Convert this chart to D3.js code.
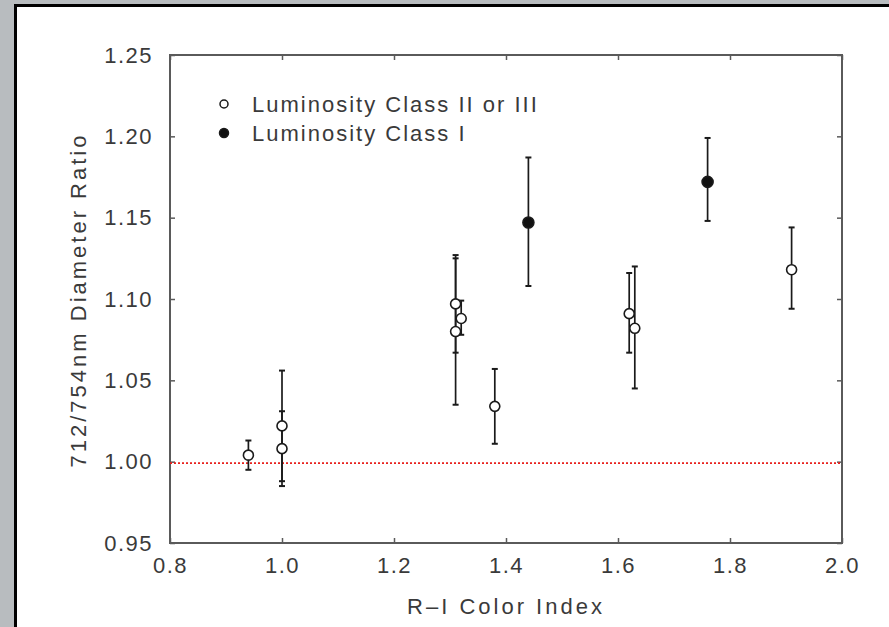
<!DOCTYPE html>
<html>
<head>
<meta charset="utf-8">
<script src="https://cdn.jsdelivr.net/npm/d3@7"></script>
<style>
  html, body { margin: 0; padding: 0; background: #b8bcbf; }
  svg { display: block; }
  text { font-family: "Liberation Sans", Arial, Helvetica, sans-serif; fill: #3a3a3a; }
</style>
</head>
<body>
<svg id="chart" width="889" height="627"></svg>
<script>
// R-I colour index of each star
const colorIndex  = [0.94, 1.00, 1.00, 1.31, 1.31, 1.32, 1.38, 1.44, 1.62, 1.63, 1.76, 1.91];
// 712/754nm diameter ratio
const ratio       = [1.004, 1.022, 1.008, 1.097, 1.080, 1.088, 1.034, 1.147, 1.091, 1.082, 1.172, 1.118];
// error bar limits
const ratioLow    = [0.995, 0.988, 0.985, 1.067, 1.035, 1.078, 1.011, 1.108, 1.067, 1.045, 1.148, 1.094];
const ratioHigh   = [1.013, 1.056, 1.031, 1.127, 1.125, 1.099, 1.057, 1.187, 1.116, 1.120, 1.199, 1.144];
// luminosity class group: "giant" = II or III, "super" = I
const lumClass    = ["giant", "giant", "giant", "giant", "giant", "giant", "giant", "super", "giant", "giant", "super", "giant"];

const xTicks = [0.8, 1.0, 1.2, 1.4, 1.6, 1.8, 2.0];
const yTicks = [0.95, 1.00, 1.05, 1.10, 1.15, 1.20, 1.25];
const legendLabels = ["Luminosity Class II or III", "Luminosity Class I"];
const referenceRatio = 1.0;

const svg = d3.select("#chart");

// slide background and white panel
svg.append("rect").attr("x", 0).attr("y", 0).attr("width", 889).attr("height", 627).attr("fill", "#b8bcbf");
svg.append("rect").attr("x", 15.5).attr("y", 5.5).attr("width", 900).attr("height", 700)
  .attr("fill", "#ffffff").attr("stroke", "#000").attr("stroke-width", 3);

const plot = { left: 170, right: 842, top: 55, bottom: 543 };
const x = d3.scaleLinear().domain([0.8, 2.0]).range([plot.left, plot.right]);
const y = d3.scaleLinear().domain([0.95, 1.25]).range([plot.bottom, plot.top]);

const frameColor = "#5a5a5a";
const tickLen = 5;

// axes with inward ticks on all four sides
const axisBottom = d3.axisBottom(x).tickValues(xTicks).tickSizeInner(-tickLen).tickSizeOuter(0).tickFormat(d3.format(".1f")).tickPadding(14);
const axisTop = d3.axisTop(x).tickValues(xTicks).tickSizeInner(-tickLen).tickSizeOuter(0).tickFormat("");
const axisLeft = d3.axisLeft(y).tickValues(yTicks).tickSizeInner(-tickLen).tickSizeOuter(0).tickFormat(d3.format(".2f")).tickPadding(17);
const axisRight = d3.axisRight(y).tickValues(yTicks).tickSizeInner(-tickLen).tickSizeOuter(0).tickFormat("");

function styleAxis(g) {
  g.select(".domain").remove();
  g.selectAll(".tick line").attr("stroke", frameColor).attr("stroke-width", 1.5);
  g.selectAll(".tick text")
    .style("font-family", "'Liberation Sans', Arial, sans-serif")
    .style("font-size", "22px").style("letter-spacing", "1.5px")
    .attr("fill", "#3a3a3a");
}

svg.append("g").attr("transform", `translate(0,${plot.bottom})`).call(axisBottom).call(styleAxis)
  .selectAll(".tick text").attr("dy", "0.71em");
svg.append("g").attr("transform", `translate(0,${plot.top})`).call(axisTop).call(styleAxis);
svg.append("g").attr("transform", `translate(${plot.left},0)`).call(axisLeft).call(styleAxis);
svg.append("g").attr("transform", `translate(${plot.right},0)`).call(axisRight).call(styleAxis);

// plot frame
svg.append("rect").attr("x", plot.left).attr("y", plot.top)
  .attr("width", plot.right - plot.left).attr("height", plot.bottom - plot.top)
  .attr("fill", "none").attr("stroke", frameColor).attr("stroke-width", 2);

// reference line at ratio 1
svg.append("line")
  .attr("x1", x(0.8)).attr("x2", x(2.0))
  .attr("y1", y(referenceRatio) + 1.5).attr("y2", y(referenceRatio) + 1.5)
  .attr("stroke", "#e8201c").attr("stroke-width", 1.6).attr("stroke-dasharray", "2,2");

// axis titles
svg.append("text").attr("x", x(1.4)).attr("y", 614).attr("text-anchor", "middle")
  .style("font-size", "22px").style("letter-spacing", "3px").text("R\u2013I Color Index");
svg.append("text").attr("transform", `translate(86,300) rotate(-90)`).attr("text-anchor", "middle")
  .style("font-size", "22px").style("letter-spacing", "3px").text("712/754nm Diameter Ratio");

// error bars
const stars = colorIndex.map((c, i) => ({ c, r: ratio[i], lo: ratioLow[i], hi: ratioHigh[i], cls: lumClass[i] }));
const capW = 3;
const eb = svg.append("g").attr("stroke", "#1a1a1a").attr("stroke-width", 1.7);
stars.forEach(d => {
  eb.append("line").attr("x1", x(d.c)).attr("x2", x(d.c)).attr("y1", y(d.lo)).attr("y2", y(d.hi));
  eb.append("line").attr("x1", x(d.c) - capW).attr("x2", x(d.c) + capW).attr("y1", y(d.lo)).attr("y2", y(d.lo)).attr("stroke-width", 2);
  eb.append("line").attr("x1", x(d.c) - capW).attr("x2", x(d.c) + capW).attr("y1", y(d.hi)).attr("y2", y(d.hi)).attr("stroke-width", 2);
});

// markers
svg.append("g").selectAll("circle").data(stars).join("circle")
  .attr("cx", d => x(d.c)).attr("cy", d => y(d.r))
  .attr("r", d => d.cls === "super" ? 5.5 : 5)
  .attr("fill", d => d.cls === "super" ? "#111" : "#fff")
  .attr("stroke", "#1a1a1a").attr("stroke-width", 1.6);

// legend
const legend = svg.append("g");
legendLabels.forEach((label, i) => {
  const ly = 104 + i * 29;
  legend.append("circle").attr("cx", 224).attr("cy", ly).attr("r", i === 0 ? 4 : 4.5)
    .attr("fill", i === 0 ? "#fff" : "#111").attr("stroke", "#1a1a1a").attr("stroke-width", 1.5);
  legend.append("text").attr("x", 252).attr("y", ly + 8)
    .style("font-size", "22px").style("letter-spacing", "2px").text(label);
});
</script>
</body>
</html>
